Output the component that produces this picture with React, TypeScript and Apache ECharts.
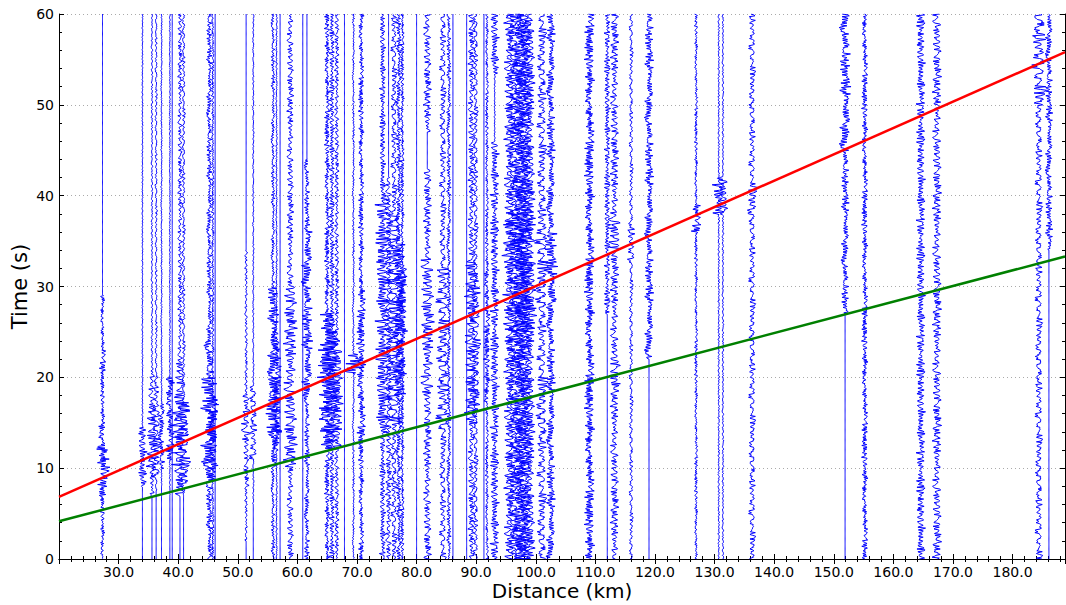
import React, { useEffect, useRef } from "react";
import * as echarts from "echarts";

// Axis extents (km, s)
const distanceRange = [20, 188.8];
const timeRange = [0, 60];

// Travel-time lines: [distance km, time s]
const redLine = [
  [20, 6.83],
  [188.8, 55.8],
];
const greenLine = [
  [20, 4.15],
  [188.8, 33.3],
];

// Hand-typed normalized wiggle samples (shared trace texture)
const wiggleShape = [
  0.3, -0.5, 0.2, -0.1, 0.6, -0.4, 0.1, 0.5, -0.7, 0.2, -0.3, 0.9, -0.2, -0.6, 0.4, 0.1,
  -0.3, 0.5, -0.8, 0.3, 0.2, -0.4, 0.6, -0.1, -0.5, 0.7, -0.2, 0.3, -1.0, 0.4, 0.1, -0.3,
  0.5, -0.6, 0.2, 0.8, -0.4, -0.1, 0.3, -0.5, 0.6, -0.2, 0.1, -0.7, 0.4, 0.2, -0.3, 0.9,
  -0.6, 0.1, -0.2, 0.5, -0.4, 0.3, -0.8, 0.6, -0.1, 0.2, -0.5, 0.4, -0.3, 0.7, -0.6, 0.1,
  0.3, -0.2, 0.5, -0.9, 0.4, -0.1, 0.6, -0.3, 0.2, -0.5, 0.8, -0.4, 0.1, -0.2, 0.5, -0.7,
  0.3, 0.4, -0.6, 0.2, -0.1, 0.6, -0.4, 1.0, -0.5, 0.2, -0.3, 0.4, -0.2, 0.7, -0.6, 0.1,
  -0.4, 0.3, 0.5, -0.8, 0.2, -0.1, 0.4, -0.5, 0.6, -0.3, 0.2, -0.7, 0.5, -0.2, 0.3, -0.4,
  0.8, -0.6, 0.1, 0.2, -0.5, 0.4, -0.9, 0.3, -0.1, 0.6, -0.3, 0.2, -0.4, 0.5, -0.2, 0.7,
];

// Traces: [distance km, background peak amplitude km, [[tFrom, tTo, peak amplitude km], ...]]
const traces: [number, number, number[][]][] = [
  [27.3, 0, [[0, 29, 0.4], [20.5, 23, 0.6], [12.5, 15, 0.8], [7, 9, 0.9], [9, 12.5, 1.4]]],
  [34.0, 0.1, [[0, 8, 0], [8, 14.5, 0.8]]],
  [35.6, 0.15, [[0, 7, 0], [7, 10, 0.5], [10, 17, 1.0], [17, 21, 0.6]]],
  [36.3, 0.2, [[0, 7.5, 0], [9, 17, 0.9], [17, 20, 0.5]]],
  [37.2, 0.12, [[0, 8, 0], [10, 17, 0.6]]],
  [38.6, 0.1, [[0, 7, 0], [11, 20, 0.8]]],
  [39.0, 0, []],
  [40.3, 0.4, [[0, 7, 0], [7, 10, 1.0], [10, 18, 1.6], [18, 22, 0.9]]],
  [40.9, 0.3, [[0, 7, 0], [8, 17, 1.2]]],
  [45.2, 0.5, [[0, 8, 0.6], [8, 12, 1.3], [12, 20, 1.6], [20, 24, 0.9]]],
  [45.8, 0.25, [[9, 18, 0.9]]],
  [46.2, 0, []],
  [51.4, 0, [[2, 34, 0.25], [8, 13, 0.5], [13, 18, 0.9]]],
  [52.6, 0.12, [[0, 6, 0], [11, 19, 0.7]]],
  [55.9, 0.35, [[10, 14, 0.8], [14, 20, 1.5], [20, 30, 1.0]]],
  [56.5, 0.15, [[12, 25, 0.9]]],
  [57.1, 0, []],
  [58.8, 0.6, [[10, 30, 1.2]]],
  [60.9, 0, []],
  [61.6, 0, [[0, 44, 0.5], [18, 36, 1.0]]],
  [65.0, 0.5, [[12, 27, 1.7]]],
  [65.8, 0.5, [[14, 25, 1.5]]],
  [66.6, 0.4, [[12, 24, 1.1]]],
  [67.9, 0, []],
  [69.4, 0.2, [[20.5, 22.5, 1.8]]],
  [70.7, 0.5, [[13, 30, 0.8]]],
  [74.3, 0.55, [[14, 40, 1.3]]],
  [75.3, 0, [[0, 42, 0.55]]],
  [76.2, 0.55, [[15, 38, 1.4]]],
  [77.0, 0.5, [[18, 35, 1.2]]],
  [77.6, 0.35, [[20, 32, 0.9]]],
  [80.0, 0, []],
  [81.8, 0.7, [[18, 33, 1.2], [43, 47, 0]]],
  [84.4, 0.6, [[14, 32, 1.2]]],
  [85.4, 0.4, []],
  [86.1, 0, []],
  [88.4, 0, []],
  [89.2, 0.6, [[15, 33, 1.2]]],
  [89.9, 0.45, [[17, 30, 0.9]]],
  [91.3, 0, []],
  [91.8, 0.3, [[17, 32, 0.6]]],
  [93.1, 0.8, [[46, 53, 0.1]]],
  [95.6, 1.0, [[25, 38, 1.3]]],
  [96.3, 1.0, [[25, 38, 1.3]]],
  [97.0, 1.1, [[25, 38, 1.4]]],
  [97.7, 1.1, [[25, 38, 1.4]]],
  [98.4, 1.0, [[25, 38, 1.3]]],
  [99.0, 0.9, [[25, 38, 1.2]]],
  [101.0, 0.85, [[14, 20, 1.1], [28, 37, 1.2]]],
  [102.5, 0.8, [[28, 36, 1.2]]],
  [109.0, 0.9, []],
  [112.0, 0, [[27, 60, 0.55]]],
  [113.2, 0.75, [[19, 22, 1.1], [34, 38, 1.2]]],
  [116.0, 0.35, [[33, 37, 0.7]]],
  [119.0, 0.8, [[0, 22, 0]]],
  [126.9, 0.3, [[36, 39, 0.9]]],
  [130.7, 0.15, [[38, 42, 1.1]]],
  [131.4, 0.15, [[38, 42, 0.9]]],
  [136.3, 0.6, [[38, 41, 1.0]]],
  [151.9, 0.7, [[0, 27, 0], [45, 60, 1.0]]],
  [155.2, 0.55, []],
  [164.6, 0.8, []],
  [167.3, 0.8, []],
  [184.4, 0.65, [[50, 60, 1.3]]],
  [186.1, 0.65, [[0, 34, 0]]],
];

const SAMPLE_STEP = 0.1;
const FONT = "DejaVu Sans";

function envelope(t: number, base: number, segs: number[][]) {
  let a = base;
  for (const [t0, t1, v] of segs) if (t >= t0 && t <= t1) a = v;
  return a;
}

function traceData(ti: number) {
  const [d, base, segs] = traces[ti];
  const n = wiggleShape.length;
  const steps = [3, 7, 11, 13, 5];
  const step = steps[ti % steps.length];
  const count = Math.round((timeRange[1] - timeRange[0]) / SAMPLE_STEP);
  const pts: number[][] = [];
  for (let k = 0; k <= count; k++) {
    const t = timeRange[0] + k * SAMPLE_STEP;
    const a = envelope(t, base, segs);
    const w = wiggleShape[(k * step + ti * 29) % n];
    pts.push([d + a * w, t]);
  }
  return pts;
}

export default function App() {
  const ref = useRef<HTMLDivElement>(null);
  useEffect(() => {
    document.body.style.margin = "0";
    if (!ref.current) return;
    const chart = echarts.init(ref.current, undefined, { renderer: "svg" });
    const axisLine = { show: true, lineStyle: { color: "#000", width: 1 } };
    const tick = { show: true, inside: true, length: 5, lineStyle: { color: "#000" } };
    const minor = { show: true, splitNumber: 5, length: 3, lineStyle: { color: "#000" } };
    const traceSeries = traces.map((_, i) => ({
      type: "line",
      xAxisIndex: 0,
      yAxisIndex: 0,
      data: traceData(i),
      showSymbol: false,
      symbol: "none",
      silent: true,
      z: 2,
      lineStyle: { color: "#0000ff", width: 1 },
    }));
    chart.setOption({
      animation: false,
      grid: { left: 59, top: 14, right: 1, bottom: 46, outerBoundsMode: "none" },
      xAxis: [
        {
          type: "value",
          min: distanceRange[0],
          max: distanceRange[1],
          interval: 10,
          position: "bottom",
          name: "Distance (km)",
          nameLocation: "middle",
          nameGap: 22,
          nameMoveOverlap: false,
          nameTextStyle: { fontFamily: FONT, fontSize: 20, color: "#000" },
          axisLine,
          axisTick: tick,
          minorTick: minor,
          splitLine: { show: false },
          axisLabel: {
            showMinLabel: false,
            showMaxLabel: false,
            fontFamily: FONT,
            fontSize: 14,
            color: "#000",
            margin: 6,
            formatter: (v: number) => v.toFixed(1),
          },
        },
        {
          type: "value",
          min: distanceRange[0],
          max: distanceRange[1],
          interval: 10,
          position: "top",
          axisLine,
          axisTick: tick,
          minorTick: minor,
          splitLine: { show: false },
          axisLabel: { show: false },
        },
      ],
      yAxis: [
        {
          type: "value",
          min: timeRange[0],
          max: timeRange[1],
          interval: 10,
          position: "left",
          name: "Time (s)",
          nameLocation: "middle",
          nameGap: 29,
          nameMoveOverlap: false,
          nameTextStyle: { fontFamily: FONT, fontSize: 21, color: "#000" },
          axisLine,
          axisTick: tick,
          minorTick: minor,
          splitLine: { show: true, lineStyle: { color: "#aaaaaa", type: [1, 3], width: 1 } },
          axisLabel: { fontFamily: FONT, fontSize: 14, color: "#000", margin: 5 },
        },
        {
          type: "value",
          min: timeRange[0],
          max: timeRange[1],
          interval: 10,
          position: "right",
          axisLine,
          axisTick: tick,
          minorTick: minor,
          splitLine: { show: false },
          axisLabel: { show: false },
        },
      ],
      series: [
        ...traceSeries,
        {
          type: "line",
          data: redLine,
          showSymbol: false,
          symbol: "none",
          z: 5,
          lineStyle: { color: "#ff0000", width: 2.5 },
        },
        {
          type: "line",
          data: greenLine,
          showSymbol: false,
          symbol: "none",
          z: 5,
          lineStyle: { color: "#008000", width: 2.5 },
        },
      ],
    });
    return () => chart.dispose();
  }, []);
  return <div ref={ref} style={{ width: 1066, height: 605 }} />;
}
